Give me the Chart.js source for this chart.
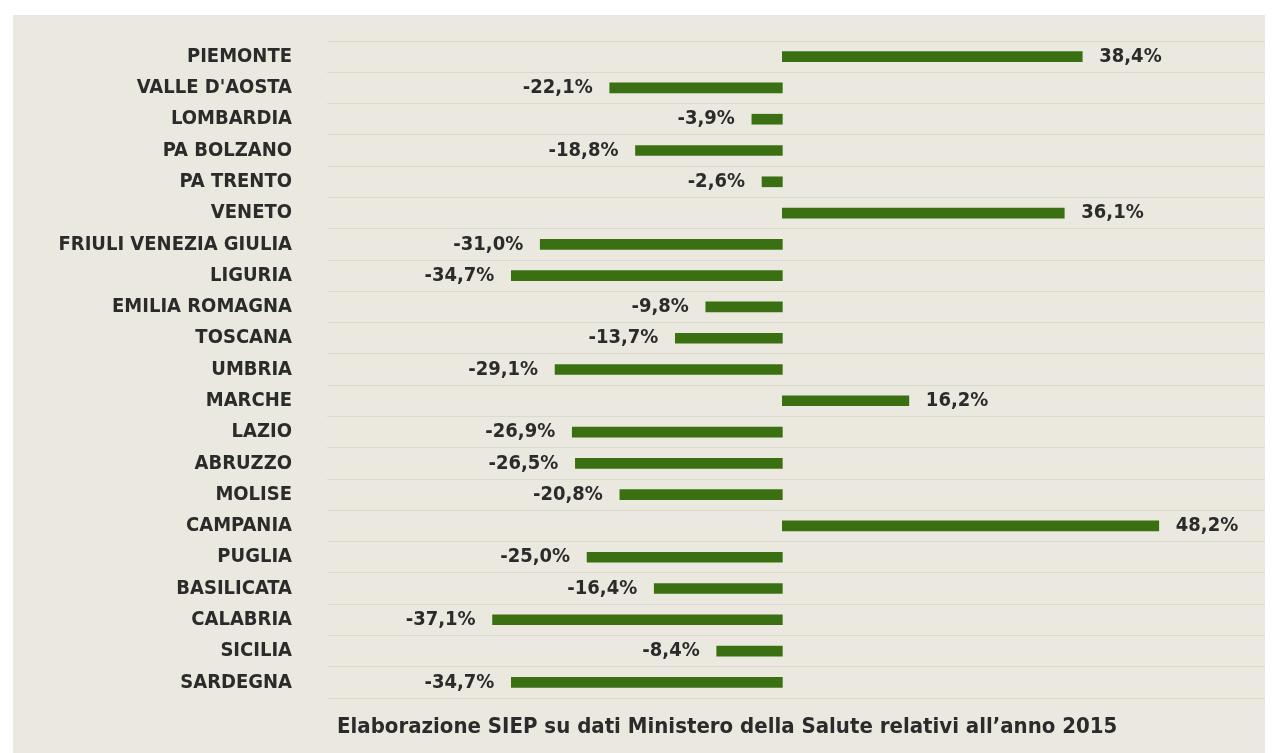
<!DOCTYPE html>
<html>
<head>
<meta charset="utf-8">
<script src="https://cdn.jsdelivr.net/npm/chart.js@4.4.1/dist/chart.umd.min.js"></script>
<style>
  html, body { margin: 0; padding: 0; background: #fff; }
  #box { position: absolute; left: 13px; top: 15px; width: 1252px; height: 738px; background: #ebe9df; }
  #wrap { position: absolute; left: 0; top: 0; width: 1252px; height: 738px; }
  #note { position: absolute; left: 324px; top: 698px; font: bold 22px "DejaVu Sans Condensed", sans-serif; color: #2b2b2b; }
</style>
</head>
<body>
<div id="box">
  <div id="wrap"><canvas id="chart"></canvas></div>
  <div id="note">Elaborazione SIEP su dati Ministero della Salute relativi all’anno 2015</div>
</div>
<script>
const regions = [
  "PIEMONTE", "VALLE D'AOSTA", "LOMBARDIA", "PA BOLZANO", "PA TRENTO", "VENETO",
  "FRIULI VENEZIA GIULIA", "LIGURIA", "EMILIA ROMAGNA", "TOSCANA", "UMBRIA", "MARCHE",
  "LAZIO", "ABRUZZO", "MOLISE", "CAMPANIA", "PUGLIA", "BASILICATA", "CALABRIA",
  "SICILIA", "SARDEGNA",
];
const variation = [
  38.4, -22.1, -3.9, -18.8, -2.6, 36.1, -31.0, -34.7, -9.8, -13.7, -29.1, 16.2,
  -26.9, -26.5, -20.8, 48.2, -25.0, -16.4, -37.1, -8.4, -34.7,
];

const fmt = (v) => v.toFixed(1).replace(".", ",") + "%";

// value labels next to the bar ends
const valueLabels = {
  id: "valueLabels",
  afterDatasetsDraw(chart) {
    const { ctx } = chart;
    const meta = chart.getDatasetMeta(0);
    ctx.save();
    ctx.font = "bold 20px 'DejaVu Sans Condensed', sans-serif";
    ctx.fillStyle = "#2b2b2b";
    ctx.textBaseline = "middle";
    meta.data.forEach((bar, i) => {
      const v = variation[i];
      if (v >= 0) {
        ctx.textAlign = "left";
        ctx.fillText(fmt(v), bar.x + 17, bar.y);
      } else {
        ctx.textAlign = "right";
        ctx.fillText(fmt(v), bar.x - 17, bar.y);
      }
    });
    ctx.restore();
  },
};

new Chart(document.getElementById("chart"), {
  type: "bar",
  data: {
    labels: regions,
    datasets: [{
      data: variation,
      backgroundColor: "#3b7012",
      barThickness: 10,
      borderSkipped: false,
    }],
  },
  options: {
    indexAxis: "y",
    responsive: true,
    maintainAspectRatio: false,
    animation: false,
    layout: { padding: { left: 0, right: 0, top: 26, bottom: 55 } },
    plugins: { legend: { display: false }, tooltip: { enabled: false } },
    scales: {
      x: {
        min: -58.3,
        max: 61.8,
        display: false,
      },
      y: {
        afterFit: (axis) => {
          axis.width = 314;
          axis.paddingTop = 0;
          axis.paddingBottom = 0;
        },
        border: { display: false },
        grid: { color: "#dcdbd0", drawTicks: false, offset: true },
        ticks: {
          padding: 35,
          color: "#2b2b2b",
          autoSkip: false,
          font: { family: "'DejaVu Sans Condensed', sans-serif", weight: "bold", size: 20 },
        },
      },
    },
  },
  plugins: [valueLabels],
});
</script>
</body>
</html>
